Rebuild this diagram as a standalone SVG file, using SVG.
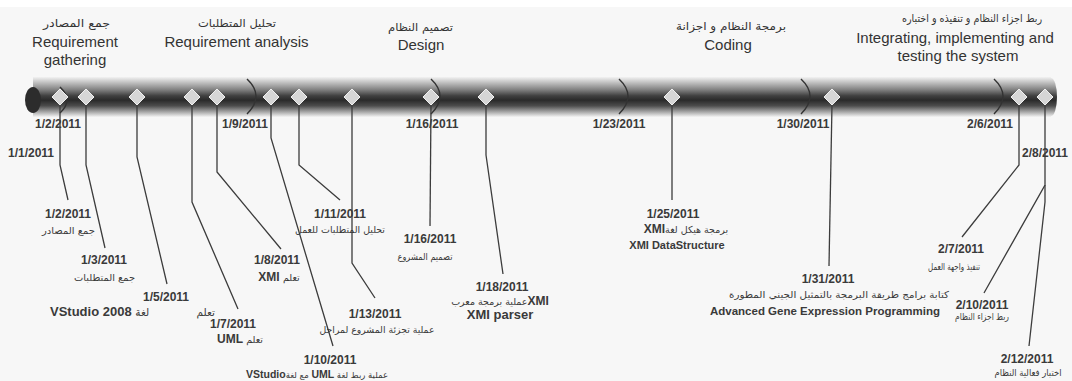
<svg xmlns="http://www.w3.org/2000/svg" width="1072" height="381" viewBox="0 0 1072 381">
  <defs>
    <linearGradient id="barShade" gradientUnits="userSpaceOnUse" x1="0" y1="77" x2="0" y2="117">
      <stop offset="0" stop-color="#f2f2f2"/>
      <stop offset="0.14" stop-color="#c0c0c0"/>
      <stop offset="0.32" stop-color="#808080"/>
      <stop offset="0.47" stop-color="#404040"/>
      <stop offset="0.58" stop-color="#2a2a2a"/>
      <stop offset="0.72" stop-color="#4c4c4c"/>
      <stop offset="0.86" stop-color="#a0a0a0"/>
      <stop offset="1" stop-color="#f4f4f4"/>
    </linearGradient>
    <style>
      .hdr { font-family: "Liberation Sans", Arial, sans-serif; font-size: 15px; fill: #333; text-anchor: middle; }
      .hdr-ar { font-family: "DejaVu Sans", sans-serif; font-size: 11px; fill: #333; text-anchor: middle; }
      .date { font-family: "Liberation Sans", Arial, sans-serif; font-size: 12px; font-weight: bold; fill: #3a3a3a; text-anchor: middle; }
      .desc { font-family: "Liberation Sans", Arial, "DejaVu Sans", sans-serif; font-size: 12px; font-weight: bold; fill: #3a3a3a; text-anchor: middle; }
      .ar { font-family: "DejaVu Sans", sans-serif; font-size: 9.5px; font-weight: normal; fill: #3a3a3a; text-anchor: middle; }
      .lat { font-family: "Liberation Sans", Arial, sans-serif; font-weight: bold; font-size: 12px; }
      .dia { fill: #d6d6d6; stroke: #f0f0f0; stroke-width: 1; }
      .lead { fill: none; stroke: #3c3c3c; stroke-width: 1.3; }
      .arc { fill: none; stroke: #333; stroke-width: 1.4; }
    </style>
  </defs>

  <rect width="1072" height="381" fill="#f7f7f7"/>
  <rect width="1072" height="7" fill="#fff"/>

  <!-- phase headers -->
  <g id="phase-gathering">
    <text class="hdr-ar" x="76.5" y="27" textLength="67" lengthAdjust="spacingAndGlyphs">جمع المصادر</text>
    <text class="hdr" x="75" y="47">Requirement</text>
    <text class="hdr" x="75" y="65">gathering</text>
  </g>
  <g id="phase-analysis">
    <text class="hdr-ar" x="237" y="27" textLength="78" lengthAdjust="spacingAndGlyphs">تحليل المتطلبات</text>
    <text class="hdr" x="236.5" y="47">Requirement analysis</text>
  </g>
  <g id="phase-design">
    <text class="hdr-ar" x="420.5" y="31" textLength="65" lengthAdjust="spacingAndGlyphs">تصميم النظام</text>
    <text class="hdr" x="421" y="50">Design</text>
  </g>
  <g id="phase-coding">
    <text class="hdr-ar" x="731" y="30" textLength="110" lengthAdjust="spacingAndGlyphs">برمجة النظام و اجزانة</text>
    <text class="hdr" x="728" y="50">Coding</text>
  </g>
  <g id="phase-integration">
    <text class="hdr-ar" x="972" y="22" textLength="140" lengthAdjust="spacingAndGlyphs">ربط اجزاء النظام و تنفيذه و اختباره</text>
    <text class="hdr" x="955" y="43">Integrating, implementing and</text>
    <text class="hdr" x="958" y="61">testing the system</text>
  </g>

  <!-- timeline bar -->
  <g id="timeline-bar">
    <rect x="33" y="77" width="1018" height="40" fill="url(#barShade)"/>
    <ellipse cx="1051" cy="97" rx="6" ry="19" fill="url(#barShade)"/>
    <ellipse cx="33" cy="100" rx="8" ry="13" fill="#2c2c2c"/>
  </g>

  <!-- weekly milestones -->
  <g id="milestones">
    <path class="arc" d="M60 87 Q74 100 60 113"/>
    <path class="arc" d="M247 79 Q265 96 247 114"/>
    <path class="arc" d="M431 79 Q449 96 431 114"/>
    <path class="arc" d="M619 79 Q637 96 619 114"/>
    <path class="arc" d="M801 79 Q819 96 801 114"/>
    <path class="arc" d="M994 79 Q1012 96 994 114"/>
    <text class="date" x="58" y="128">1/2/2011</text>
    <text class="date" x="245" y="128">1/9/2011</text>
    <text class="date" x="432" y="128">1/16/2011</text>
    <text class="date" x="619" y="128">1/23/2011</text>
    <text class="date" x="803" y="128">1/30/2011</text>
    <text class="date" x="990" y="128">2/6/2011</text>
    <text class="date" x="31" y="157">1/1/2011</text>
    <text class="date" x="1045" y="157">2/8/2011</text>
  </g>

  <!-- leader lines -->
  <g id="connectors">
    <polyline class="lead" points="60,104 60,165 68,200"/>
    <polyline class="lead" points="86,104 86,165 105,248"/>
    <polyline class="lead" points="137,104 137,157 167,284"/>
    <polyline class="lead" points="192,104 192,202 238,309"/>
    <polyline class="lead" points="217,104 217,172 281,249"/>
    <polyline class="lead" points="271,104 271,138 333,346"/>
    <polyline class="lead" points="299,104 299,165 340,200"/>
    <polyline class="lead" points="352,104 352,263 375,298"/>
    <polyline class="lead" points="431,104 430,226"/>
    <polyline class="lead" points="486,104 486,155 503,274"/>
    <polyline class="lead" points="672,104 672,200"/>
    <polyline class="lead" points="832,104 829,266"/>
    <polyline class="lead" points="1019,104 1019,165 962,237"/>
    <polyline class="lead" points="1045,104 1045,185 984,293"/>
    <polyline class="lead" points="1045,185 1045,202 1029,346"/>
  </g>

  <!-- events -->
  <g id="ev-0102">
    <polygon class="dia" points="60,89 68,97 60,105 52,97"/>
    <text class="date" x="68" y="218">1/2/2011</text>
    <text class="ar" x="68.5" y="234" textLength="53" lengthAdjust="spacingAndGlyphs">جمع المصادر</text>
  </g>
  <g id="ev-0103">
    <polygon class="dia" points="86,89 94,97 86,105 78,97"/>
    <text class="date" x="104" y="264">1/3/2011</text>
    <text class="ar" x="104.5" y="281" textLength="61" lengthAdjust="spacingAndGlyphs">جمع المتطلبات</text>
  </g>
  <g id="ev-0105">
    <polygon class="dia" points="137,89 145,97 137,105 129,97"/>
    <text class="date" x="166" y="301">1/5/2011</text>
    <text class="ar" x="50" y="316" style="text-anchor:start; font-size:10.5px"><tspan class="lat" style="font-size:13px">VStudio 2008 </tspan><tspan style="word-spacing:44px">تعلم لغة</tspan></text>
  </g>
  <g id="ev-0107">
    <polygon class="dia" points="192,89 200,97 192,105 184,97"/>
    <text class="date" x="233" y="328">1/7/2011</text>
    <text class="ar" x="240" y="343"><tspan class="lat">UML </tspan>تعلم</text>
  </g>
  <g id="ev-0108">
    <polygon class="dia" points="217,89 225,97 217,105 209,97"/>
    <text class="date" x="277" y="264">1/8/2011</text>
    <text class="ar" x="279" y="281"><tspan class="lat">XMI </tspan>تعلم</text>
  </g>
  <g id="ev-0110">
    <polygon class="dia" points="271,89 279,97 271,105 263,97"/>
    <text class="date" x="330" y="364">1/10/2011</text>
    <text class="ar" x="317" y="378" direction="rtl" style="font-size:8.5px">عملية ربط لغة <tspan class="lat" style="font-size:10.5px">UML</tspan> مع لغة<tspan class="lat" style="font-size:10.5px">VStudio</tspan></text>
  </g>
  <g id="ev-0111">
    <polygon class="dia" points="299,89 307,97 299,105 291,97"/>
    <text class="date" x="340" y="218">1/11/2011</text>
    <text class="ar" x="340" y="233" textLength="90" lengthAdjust="spacingAndGlyphs">تحليل المتطلبات للعمل</text>
  </g>
  <g id="ev-0113">
    <polygon class="dia" points="352,89 360,97 352,105 344,97"/>
    <text class="date" x="375" y="318">1/13/2011</text>
    <text class="ar" x="377" y="333" textLength="115" lengthAdjust="spacingAndGlyphs">عملية تجزئة المشروع لمراحل</text>
  </g>
  <g id="ev-0116">
    <polygon class="dia" points="431,89 439,97 431,105 423,97"/>
    <text class="date" x="430" y="243">1/16/2011</text>
    <text class="ar" x="425" y="260" textLength="55" lengthAdjust="spacingAndGlyphs">تصميم المشروع</text>
  </g>
  <g id="ev-0118">
    <polygon class="dia" points="486,89 494,97 486,105 478,97"/>
    <text class="date" x="502" y="291">1/18/2011</text>
    <text class="ar" x="500" y="305">عملية برمجة معرب<tspan class="lat">XMI</tspan></text>
    <text class="desc" x="500" y="319" style="font-size:13px">XMI parser</text>
  </g>
  <g id="ev-0125">
    <polygon class="dia" points="672,89 680,97 672,105 664,97"/>
    <text class="date" x="673" y="218">1/25/2011</text>
    <text class="ar" x="686" y="233" direction="rtl">برمجة هيكل لغة<tspan class="lat">XMI</tspan></text>
    <text class="desc" x="677" y="249" style="font-size:11px">XMI DataStructure</text>
  </g>
  <g id="ev-0131">
    <polygon class="dia" points="832,89 840,97 832,105 824,97"/>
    <text class="date" x="828" y="283">1/31/2011</text>
    <text class="ar" x="839" y="298" textLength="220" lengthAdjust="spacingAndGlyphs">كتابة برامج طريقة البرمجة بالتمثيل الجيني المطورة</text>
    <text class="desc" x="825" y="315" style="font-size:11.5px">Advanced Gene Expression Programming</text>
  </g>
  <g id="ev-0207">
    <polygon class="dia" points="1019,89 1027,97 1019,105 1011,97"/>
    <text class="date" x="961" y="253">2/7/2011</text>
    <text class="ar" x="954" y="270" textLength="52" lengthAdjust="spacingAndGlyphs">تنفيذ واجهة العمل</text>
  </g>
  <g id="ev-0208">
    <polygon class="dia" points="1045,89 1053,97 1045,105 1037,97"/>
    <text class="date" x="982" y="309">2/10/2011</text>
    <text class="ar" x="982" y="320" textLength="54" lengthAdjust="spacingAndGlyphs">ربط اجزاء النظام</text>
    <text class="date" x="1027" y="363">2/12/2011</text>
    <text class="ar" x="1028" y="376" textLength="67" lengthAdjust="spacingAndGlyphs">اختبار فعالية النظام</text>
  </g>
</svg>
